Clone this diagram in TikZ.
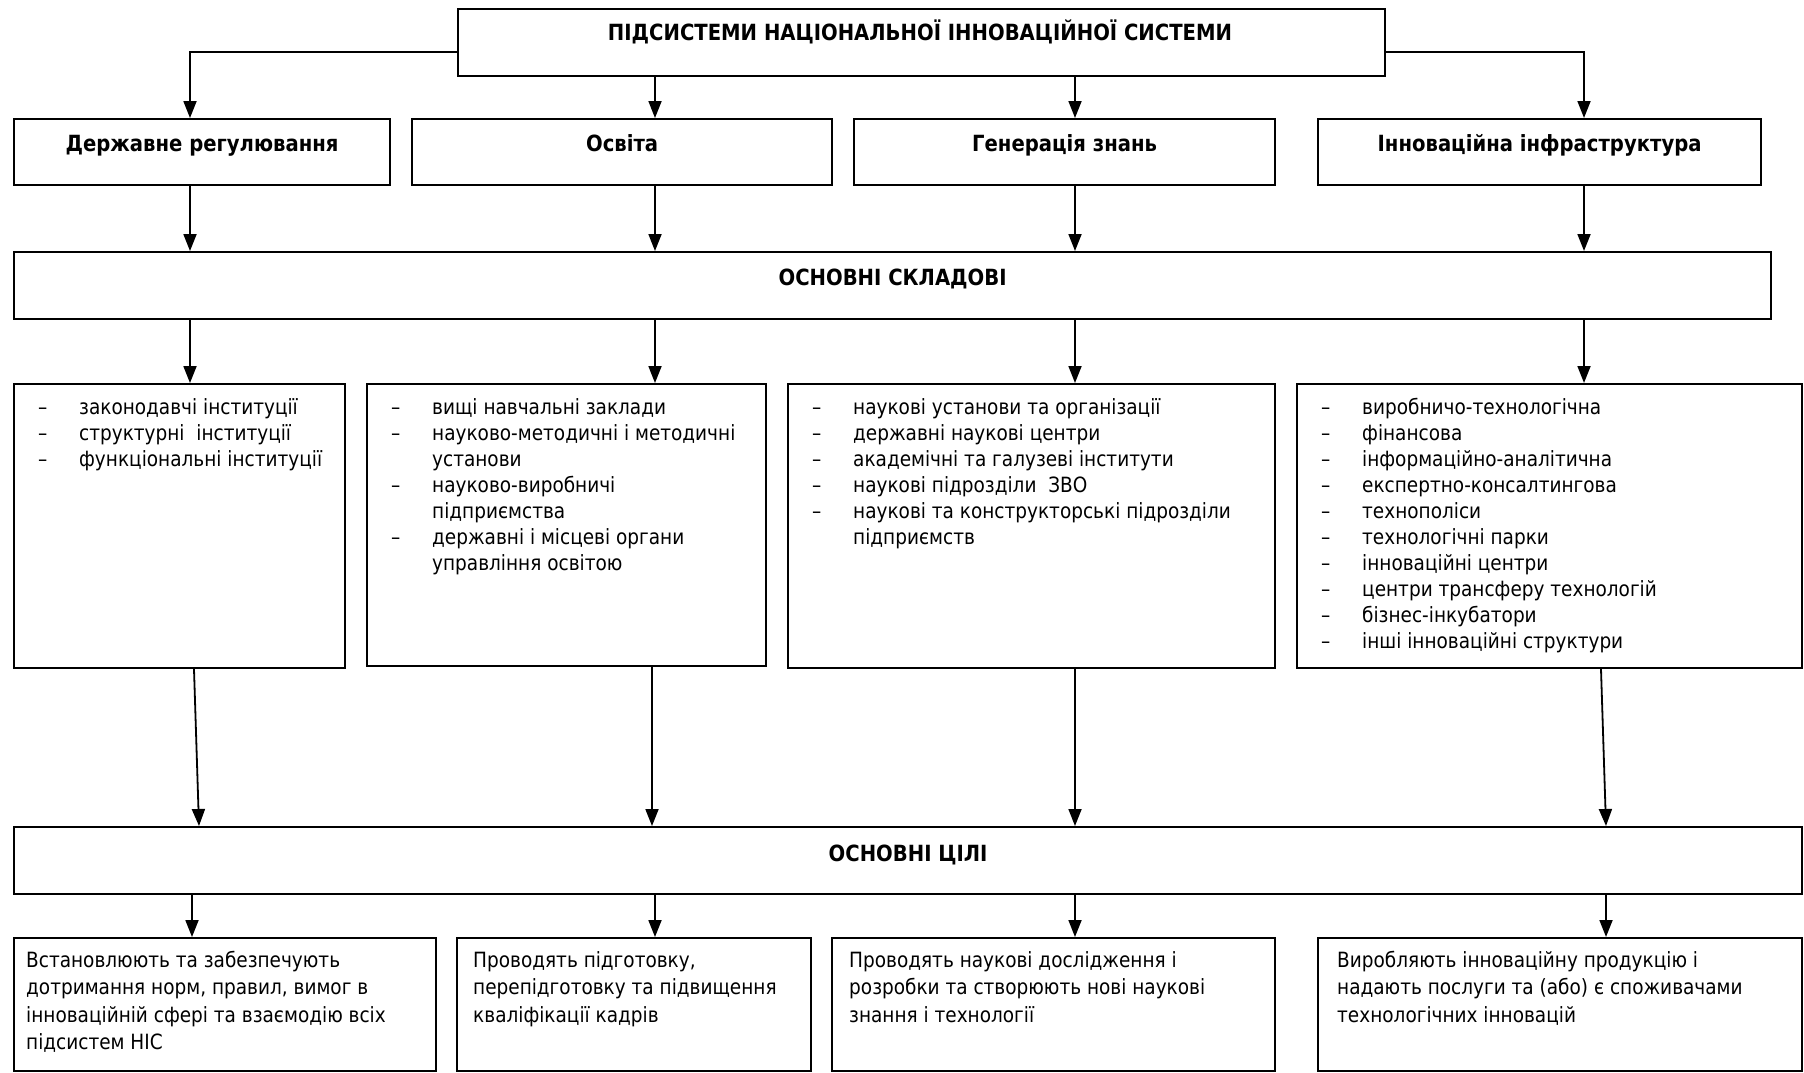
\documentclass[tikz,border=0pt]{standalone}
\usepackage{fontspec}
\setmainfont[FakeStretch=0.88]{DejaVu Sans}
\usetikzlibrary{arrows.meta}
\newcommand\lsi[1]{\makebox[41pt][l]{–}#1}
\newcommand\lsc[1]{\hspace*{41pt}#1}
\begin{document}
\begin{tikzpicture}[x=1pt,y=-1pt,
  box/.style={draw, line width=2.2pt, inner sep=0pt, anchor=north west},
  arr/.style={line width=1.8pt, -{Triangle[width=13pt,length=17pt]}},
  hd/.style={font=\fontsize{22.3}{26}\selectfont\bfseries, anchor=base, inner sep=0pt},
  lst/.style={font=\fontsize{21}{26}\selectfont, align=left, anchor=north west, inner sep=0pt},
  gl/.style={font=\fontsize{21}{27.5}\selectfont, align=left, anchor=north west, inner sep=0pt}]
\useasboundingbox (0,0) rectangle (1804,1072);
% boxes
\node[box, minimum width=927pt, minimum height=67pt] (top) at (457,8) {};
\node[box, minimum width=376pt, minimum height=66pt] (r2a) at (13,118) {};
\node[box, minimum width=420pt, minimum height=66pt] (r2b) at (411,118) {};
\node[box, minimum width=421pt, minimum height=66pt] (r2c) at (853,118) {};
\node[box, minimum width=443pt, minimum height=66pt] (r2d) at (1317,118) {};
\node[box, minimum width=1757pt, minimum height=67pt] (sk) at (13,251) {};
\node[box, minimum width=331pt, minimum height=284pt] (r3a) at (13,383) {};
\node[box, minimum width=399pt, minimum height=282pt] (r3b) at (366,383) {};
\node[box, minimum width=487pt, minimum height=284pt] (r3c) at (787,383) {};
\node[box, minimum width=505pt, minimum height=284pt] (r3d) at (1296,383) {};
\node[box, minimum width=1788pt, minimum height=67pt] (ci) at (13,826) {};
\node[box, minimum width=422pt, minimum height=133pt] (b1) at (13,937) {};
\node[box, minimum width=354pt, minimum height=133pt] (b2) at (456,937) {};
\node[box, minimum width=443pt, minimum height=133pt] (b3) at (831,937) {};
\node[box, minimum width=484pt, minimum height=133pt] (b4) at (1317,937) {};
% headings
\node[hd] (ttop) at (920,40) {ПІДСИСТЕМИ НАЦІОНАЛЬНОЇ ІННОВАЦІЙНОЇ СИСТЕМИ};
\node[hd] (t2a) at ([yshift=-33pt]r2a.north) {Державне регулювання};
\node[hd] (t2b) at ([yshift=-33pt]r2b.north) {Освіта};
\node[hd] (t2c) at ([yshift=-33pt]r2c.north) {Генерація знань};
\node[hd] (t2d) at ([yshift=-33pt]r2d.north) {Інноваційна інфраструктура};
\node[hd] (tsk) at ([yshift=-34pt]sk.north) {ОСНОВНІ СКЛАДОВІ};
\node[hd] (tci) at ([yshift=-35pt]ci.north) {ОСНОВНІ ЦІЛІ};
% lists
\node[lst] (l3a) at ([xshift=25pt,yshift=-13pt]r3a.north west) {\strut\lsi{законодавчі інституції}\\\lsi{структурні\ \ інституції}\\\lsi{функціональні інституції}};
\node[lst] (l3b) at ([xshift=25pt,yshift=-13pt]r3b.north west) {\strut\lsi{вищі навчальні заклади}\\\lsi{науково-методичні і методичні}\\\lsc{установи}\\\lsi{науково-виробничі}\\\lsc{підприємства}\\\lsi{державні і місцеві органи}\\\lsc{управління освітою}};
\node[lst] (l3c) at ([xshift=25pt,yshift=-13pt]r3c.north west) {\strut\lsi{наукові установи та організації}\\\lsi{державні наукові центри}\\\lsi{академічні та галузеві інститути}\\\lsi{наукові підрозділи\ \ ЗВО}\\\lsi{наукові та конструкторські підрозділи}\\\lsc{підприємств}};
\node[lst] (l3d) at ([xshift=25pt,yshift=-13pt]r3d.north west) {\strut\lsi{виробничо-технологічна}\\\lsi{фінансова}\\\lsi{інформаційно-аналітична}\\\lsi{експертно-консалтингова}\\\lsi{технополіси}\\\lsi{технологічні парки}\\\lsi{інноваційні центри}\\\lsi{центри трансферу технологій}\\\lsi{бізнес-інкубатори}\\\lsi{інші інноваційні структури}};
% goals
\node[gl] (g1) at ([xshift=13pt,yshift=-11pt]b1.north west) {\strut Встановлюють та забезпечують\\дотримання норм, правил, вимог в\\інноваційній сфері та взаємодію всіх\\підсистем НІС};
\node[gl] (g2) at ([xshift=17pt,yshift=-11pt]b2.north west) {\strut Проводять підготовку,\\перепідготовку та підвищення\\кваліфікації кадрів};
\node[gl] (g3) at ([xshift=18pt,yshift=-11pt]b3.north west) {\strut Проводять наукові дослідження і\\розробки та створюють нові наукові\\знання і технології};
\node[gl] (g4) at ([xshift=20pt,yshift=-11pt]b4.north west) {\strut Виробляють інноваційну продукцію і\\надають послуги та (або) є споживачами\\технологічних інновацій};
% column coordinates
\coordinate (ty) at (0,52);
\coordinate (c1) at (190,0);
\coordinate (c2) at (655,0);
\coordinate (c3) at (1075,0);
\coordinate (c4) at (1584,0);
\coordinate (s1) at (194,0);
\coordinate (e1) at (199,0);
\coordinate (s2) at (652,0);
\coordinate (s4) at (1601,0);
\coordinate (e4) at (1606,0);
\coordinate (d1) at (192,0);
% connectors
\draw[arr] (top.west |- ty) -| (r2a.north -| c1);
\draw[arr] (top.east |- ty) -| (r2d.north -| c4);
\draw[arr] (top.south -| c2) -- (r2b.north -| c2);
\draw[arr] (top.south -| c3) -- (r2c.north -| c3);
\draw[arr] (r2a.south -| c1) -- (sk.north -| c1);
\draw[arr] (r2b.south -| c2) -- (sk.north -| c2);
\draw[arr] (r2c.south -| c3) -- (sk.north -| c3);
\draw[arr] (r2d.south -| c4) -- (sk.north -| c4);
\draw[arr] (sk.south -| c1) -- (r3a.north -| c1);
\draw[arr] (sk.south -| c2) -- (r3b.north -| c2);
\draw[arr] (sk.south -| c3) -- (r3c.north -| c3);
\draw[arr] (sk.south -| c4) -- (r3d.north -| c4);
\draw[arr] (r3a.south -| s1) -- (ci.north -| e1);
\draw[arr] (r3b.south -| s2) -- (ci.north -| s2);
\draw[arr] (r3c.south -| c3) -- (ci.north -| c3);
\draw[arr] (r3d.south -| s4) -- (ci.north -| e4);
\draw[arr] (ci.south -| d1) -- (b1.north -| d1);
\draw[arr] (ci.south -| c2) -- (b2.north -| c2);
\draw[arr] (ci.south -| c3) -- (b3.north -| c3);
\draw[arr] (ci.south -| e4) -- (b4.north -| e4);
\end{tikzpicture}
\end{document}
